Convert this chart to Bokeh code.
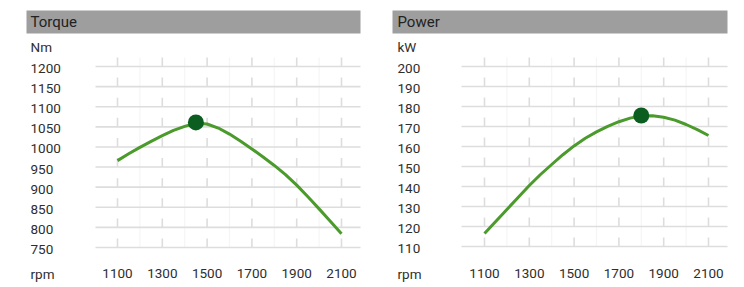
from bokeh.plotting import figure
from bokeh.layouts import row
from bokeh.core.properties import value
from bokeh.embed import file_html
from bokeh.resources import INLINE

rpm = [1100, 1150, 1200, 1250, 1300, 1350, 1400, 1450, 1500, 1550, 1600,
       1650, 1700, 1750, 1800, 1850, 1900, 1950, 2000, 2050, 2100]
torque = [966, 983, 999, 1014, 1028, 1041, 1051, 1059, 1057, 1047, 1032,
          1014, 995, 975, 954, 931, 905, 876, 846, 815, 784]
power = [116.5, 122.5, 128.5, 134.5, 140.5, 146, 151, 155.9, 160.3, 164.1, 167.3,
         170.1, 172.4, 174.2, 175.3, 175.4, 174.6, 173.2, 171.0, 168.4, 165.5]
torque_peak = (1450, 1061)
power_peak = (1800, 175.5)
x_ticks = [1100, 1300, 1500, 1700, 1900, 2100]
torque_ticks = [1200, 1150, 1100, 1050, 1000, 950, 900, 850, 800, 750]
power_ticks = [200, 190, 180, 170, 160, 150, 140, 130, 120, 110]

FONT = "Roboto"
TXT = "#2e2e2e"
W, H = 372, 287
PX_PER_RPM = 0.224


def panel(title, unit, xs, ys, peak, yticks, x1100, ppu, grid_l, grid_r, head_l, head_r, lab_x):
    top_val = yticks[0]
    x0 = 1100 - x1100 / PX_PER_RPM
    x1 = x0 + W / PX_PER_RPM
    y_top = top_val + 66 / ppu
    y_bot = top_val - (H - 66) / ppu

    def fx(px):
        return x0 + px / PX_PER_RPM

    def fy(py_from_top):
        return y_top - py_from_top / ppu

    p = figure(width=W, height=H, x_range=(x0, x1), y_range=(y_bot, y_top),
               output_backend="svg", toolbar_location=None, min_border=0)
    p.axis.visible = False
    p.grid.visible = False
    p.outline_line_color = None
    p.background_fill_color = "white"
    p.border_fill_color = "white"

    # header band
    p.quad(left=[fx(head_l)], right=[fx(head_r)], top=[fy(10)], bottom=[fy(33)],
           fill_color="#9e9e9e", line_color=None)
    p.text(x=[fx(lab_x)], y=[fy(21.5)], text=[title], text_font=value(FONT),
           text_font_size="15px", text_color="#222222", text_baseline="middle",
           text_align="left")

    # faint intermediate verticals
    mids = [t + 100 for t in x_ticks[:-1]]
    p.segment(x0=mids, x1=mids, y0=[yticks[-1]] * len(mids), y1=[yticks[0] + 9 / ppu] * len(mids),
              line_color="#f5f5f5", line_width=1.2)

    # horizontal grid lines
    p.segment(x0=[fx(grid_l)] * len(yticks), x1=[fx(grid_r)] * len(yticks),
              y0=yticks, y1=yticks, line_color="#dddddd", line_width=1.6)
    # short vertical marks above each grid line
    sx, sy0, sy1 = [], [], []
    for t in x_ticks:
        for v in yticks:
            sx.append(t)
            sy0.append(v)
            sy1.append(v + 9 / ppu)
    p.segment(x0=sx, x1=sx, y0=sy0, y1=sy1, line_color="#dddddd", line_width=1.6)

    # y labels
    p.text(x=[fx(lab_x)] * len(yticks), y=yticks, text=[str(v) for v in yticks],
           text_font=value(FONT), text_font_size="13.5px", text_color=TXT,
           text_baseline="middle", text_align="left", y_offset=2)
    p.text(x=[fx(lab_x)], y=[fy(46)], text=[unit], text_font=value(FONT),
           text_font_size="13.5px", text_color=TXT, text_baseline="middle", text_align="left")
    # x labels
    p.text(x=x_ticks, y=[fy(273)] * len(x_ticks), text=[str(t) for t in x_ticks],
           text_font=value(FONT), text_font_size="13.5px", text_color=TXT,
           text_baseline="middle", text_align="center")
    p.text(x=[fx(lab_x)], y=[fy(273)], text=["rpm"], text_font=value(FONT),
           text_font_size="13.5px", text_color=TXT, text_baseline="middle", text_align="left")

    # curve
    p.line(xs, ys, line_color="#4b9a2c", line_width=3, line_join="round")
    p.scatter([peak[0]], [peak[1]], size=16, fill_color="#0b5e20", line_color=None)
    return p


p1 = panel("Torque", "Nm", rpm, torque, torque_peak, torque_ticks, 117, 181 / 450,
           95, 360, 26, 360, 30)
p2 = panel("Power", "kW", rpm, power, power_peak, power_ticks, 112, 2.0,
           89, 355, 20, 355, 25)

layout = row(p1, p2)
open("out.html", "w").write(file_html(layout, INLINE))
